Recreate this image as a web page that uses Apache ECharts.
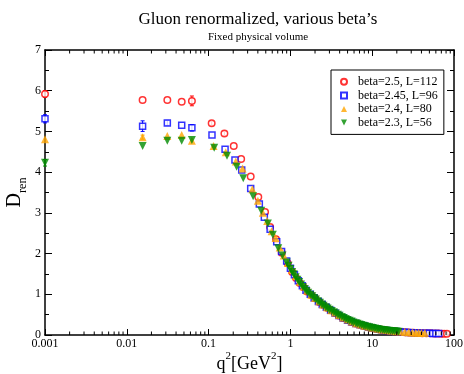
<!DOCTYPE html>
<html>
<head>
<meta charset="utf-8">
<script src="https://cdn.jsdelivr.net/npm/echarts@6/dist/echarts.min.js"></script>
<style>
  html, body { margin: 0; padding: 0; background: #fff; }
  #chart { width: 464px; height: 374px; }
</style>
</head>
<body>
<div id="chart"></div>
<script>
// tick labels
const xTickLabels = ['0.001', '0.01', '0.1', '1', '10', '100'];
const yTickLabels = ['0', '1', '2', '3', '4', '5', '6', '7'];

const seriesNames = ['beta=2.5, L=112', 'beta=2.45, L=96', 'beta=2.4, L=80', 'beta=2.3, L=56'];

// [q^2, D_ren]
const beta25 = [
  [0.001, 5.92], [0.0156, 5.77], [0.0313, 5.77], [0.0469, 5.73], [0.0625, 5.75],
  [0.109, 5.2], [0.156, 4.95], [0.203, 4.64], [0.25, 4.32], [0.327, 3.89], [0.405, 3.39],
  [0.49, 3.02], [0.565, 2.65], [0.667, 2.35], [0.783, 2.02], [0.927, 1.76], [1.05, 1.55],
  [1.17, 1.4], [1.3, 1.28], [1.45, 1.17], [1.6, 1.07], [1.8, 0.98], [2.0, 0.9], [2.25, 0.81],
  [2.5, 0.74], [2.8, 0.67], [3.1, 0.61], [3.5, 0.54], [3.9, 0.48], [4.4, 0.42], [5.0, 0.37],
  [5.6, 0.32], [6.3, 0.28], [7.1, 0.25], [8.0, 0.22], [9.0, 0.19], [10, 0.17], [11.5, 0.15],
  [13, 0.13], [15, 0.11], [17, 0.1], [19.5, 0.085], [22, 0.075], [25, 0.065], [28, 0.06],
  [32, 0.055], [36, 0.05], [41, 0.045], [46, 0.04], [52, 0.04], [58, 0.035], [64, 0.035],
  [70, 0.03], [76, 0.03], [82, 0.03]
];
const beta245 = [
  [0.001, 5.31], [0.0156, 5.13], [0.0313, 5.21], [0.0469, 5.15], [0.0625, 5.09],
  [0.11, 4.91], [0.159, 4.56], [0.21, 4.3], [0.254, 4.05], [0.327, 3.6], [0.417, 3.22],
  [0.48, 2.89], [0.565, 2.6], [0.68, 2.29], [0.78, 2.05], [0.9, 1.82], [1.0, 1.64],
  [1.12, 1.48], [1.25, 1.33], [1.4, 1.21], [1.55, 1.1], [1.75, 1.0], [1.95, 0.91], [2.2, 0.82],
  [2.45, 0.75], [2.75, 0.68], [3.1, 0.61], [3.5, 0.54], [3.9, 0.48], [4.4, 0.42], [5.0, 0.36],
  [5.6, 0.32], [6.3, 0.28], [7.1, 0.25], [8.0, 0.22], [9.0, 0.19], [10, 0.17], [11.5, 0.15],
  [13, 0.13], [15, 0.11], [17, 0.1], [19.5, 0.085], [22, 0.075], [25, 0.065], [28, 0.06],
  [32, 0.055], [36, 0.05], [40, 0.045], [45, 0.04], [50, 0.04], [55, 0.035], [60, 0.035],
  [65, 0.035]
];
const beta24 = [
  [0.001, 4.81], [0.0156, 4.86], [0.0313, 4.89], [0.0469, 4.91], [0.0625, 4.77],
  [0.115, 4.64], [0.162, 4.49], [0.215, 4.26], [0.26, 4.09], [0.343, 3.58], [0.4, 3.3],
  [0.46, 3.0], [0.52, 2.8], [0.59, 2.55], [0.66, 2.38], [0.74, 2.15], [0.83, 1.95],
  [0.93, 1.77], [1.04, 1.6], [1.16, 1.45], [1.3, 1.31], [1.45, 1.19], [1.6, 1.09], [1.8, 0.99],
  [2.0, 0.91], [2.25, 0.83], [2.5, 0.75], [2.8, 0.68], [3.15, 0.61], [3.5, 0.55], [3.9, 0.49],
  [4.4, 0.43], [5.0, 0.38], [5.6, 0.33], [6.3, 0.29], [7.1, 0.26], [8.0, 0.23], [9.0, 0.2],
  [10, 0.18], [11.5, 0.155], [13, 0.135], [15, 0.12], [17, 0.105], [19.5, 0.095], [22, 0.085],
  [25, 0.075], [28, 0.068], [31, 0.062], [34, 0.058], [37, 0.055], [40, 0.052], [44, 0.05]
];
const beta23 = [
  [0.001, 4.23], [0.0156, 4.64], [0.0313, 4.77], [0.0469, 4.77], [0.0625, 4.79],
  [0.117, 4.6], [0.168, 4.4], [0.22, 4.13], [0.265, 3.85], [0.35, 3.41], [0.44, 3.05],
  [0.53, 2.74], [0.61, 2.46], [0.71, 2.13], [0.8, 1.95], [0.9, 1.78], [0.95, 1.7], [1.0, 1.62],
  [1.05, 1.55], [1.1, 1.49], [1.16, 1.42], [1.22, 1.36], [1.28, 1.3], [1.35, 1.24],
  [1.42, 1.18], [1.5, 1.13], [1.57, 1.08], [1.65, 1.04], [1.75, 0.99], [1.85, 0.95],
  [1.95, 0.91], [2.05, 0.87], [2.17, 0.83], [2.3, 0.79], [2.42, 0.75], [2.55, 0.72],
  [2.7, 0.68], [2.85, 0.65], [3.0, 0.62], [3.2, 0.59], [3.4, 0.56], [3.6, 0.53], [3.8, 0.5],
  [4.0, 0.47], [4.25, 0.445], [4.5, 0.42], [4.75, 0.395], [5.0, 0.37], [5.3, 0.35],
  [5.6, 0.33], [5.9, 0.31], [6.3, 0.29], [6.6, 0.275], [7.0, 0.26], [7.4, 0.245],
  [7.8, 0.23], [8.2, 0.215], [8.7, 0.2], [9.2, 0.19], [9.7, 0.18], [10.2, 0.17],
  [10.8, 0.16], [11.4, 0.15], [12, 0.14], [12.7, 0.13], [13.5, 0.12], [14.2, 0.115],
  [15, 0.11], [15.9, 0.105], [16.8, 0.1], [17.8, 0.095], [18.8, 0.09], [19.9, 0.085], [21, 0.08]
];

// [q^2, D_ren, error]
const beta25Err = [[0.001, 5.92, 0.08], [0.0625, 5.75, 0.12], [0.109, 5.2, 0.05], [0.156, 4.95, 0.05]];
const beta245Err = [[0.001, 5.31, 0.1], [0.0156, 5.13, 0.13], [0.0313, 5.21, 0.06], [0.0625, 5.09, 0.08]];
const beta24Err = [[0.0156, 4.86, 0.05]];
const beta23Err = [[0.001, 4.23, 0.08]];

const FONT = 'Liberation Serif, DejaVu Serif, serif';
const RED = '#ff0000';
const BLUE = '#0000ff';
const ORANGE = '#ffa500';
const GREEN = '#008b00';
const DOWN_TRI = 'path://M0,0L10,0L5,10Z';

// minor ticks of the log axis: 2..9 x 10^k
const minorX = [];
for (let k = -3; k < 2; k++) {
  for (let m = 2; m <= 9; m++) minorX.push([m * Math.pow(10, k)]);
}

const errorSeries = (data, color) => ({
  type: 'custom',
  data: data,
  silent: true,
  renderItem: (params, api) => {
    const x = api.value(0);
    const y = api.value(1);
    const e = api.value(2);
    const lo = api.coord([x, y - e]);
    const hi = api.coord([x, y + e]);
    const st = { stroke: color, lineWidth: 1 };
    return {
      type: 'group',
      children: [
        { type: 'line', shape: { x1: lo[0], y1: lo[1], x2: hi[0], y2: hi[1] }, style: st },
        { type: 'line', shape: { x1: lo[0] - 2, y1: lo[1], x2: lo[0] + 2, y2: lo[1] }, style: st },
        { type: 'line', shape: { x1: hi[0] - 2, y1: hi[1], x2: hi[0] + 2, y2: hi[1] }, style: st },
      ],
    };
  },
});

const axisCommon = {
  axisLine: { show: true, onZero: false, lineStyle: { color: '#000', width: 1.5 } },
  splitLine: { show: false },
};

const chart = echarts.init(document.getElementById('chart'));

const option = {
  animation: false,
  backgroundColor: '#fff',
  title: {
    text: 'Gluon renormalized, various beta\u2019s',
    subtext: 'Fixed physical volume',
    left: 253,
    top: 6,
    textAlign: 'center',
    itemGap: 4,
    textStyle: { fontFamily: FONT, fontSize: 17, fontWeight: 'normal', color: '#000' },
    subtextStyle: { fontFamily: FONT, fontSize: 11, color: '#000' },
  },
  legend: {
    orient: 'vertical',
    left: 331,
    top: 70,
    padding: [5, 6, 5, 9],
    itemGap: 0,
    itemWidth: 6,
    itemHeight: 6,
    borderColor: '#000',
    borderWidth: 1,
    selectedMode: false,
    textStyle: { fontFamily: FONT, fontSize: 12, color: '#000', lineHeight: 13.6, padding: [0, 0, 0, 6] },
    data: seriesNames,
  },
  grid: { left: 45, right: 10, top: 50, bottom: 39, outerBoundsMode: 'none', containLabel: false },
  xAxis: [
    {
      ...axisCommon,
      type: 'log',
      logBase: 10,
      min: 0.001,
      max: 100,
      position: 'bottom',
      axisTick: { show: true, inside: true, length: 6, lineStyle: { color: '#000', width: 1 } },
      axisLabel: {
        fontFamily: FONT, fontSize: 12, color: '#000', margin: 3,
        formatter: (v, i) => xTickLabels[i],
      },
      name: '{a|q}{s|2}{a|[GeV}{s|2}{a|]}',
      nameLocation: 'middle',
      nameGap: 16,
      nameMoveOverlap: false,
      nameTextStyle: {
        rich: {
          a: { fontFamily: FONT, fontSize: 18, color: '#000', lineHeight: 22, verticalAlign: 'bottom' },
          s: { fontFamily: FONT, fontSize: 11, color: '#000', lineHeight: 22, verticalAlign: 'top' },
        },
      },
    },
    {
      ...axisCommon,
      type: 'log',
      logBase: 10,
      min: 0.001,
      max: 100,
      position: 'top',
      axisTick: { show: true, inside: true, length: 6, lineStyle: { color: '#000', width: 1 } },
      axisLabel: { show: false },
    },
  ],
  yAxis: [
    {
      ...axisCommon,
      type: 'value',
      min: 0,
      max: 7,
      interval: 1,
      position: 'left',
      axisTick: { show: true, inside: true, length: 7, lineStyle: { color: '#000' } },
      minorTick: { show: true, splitNumber: 2, length: 4, lineStyle: { color: '#000' } },
      axisLabel: {
        fontFamily: FONT, fontSize: 12, color: '#000', margin: 4,
        formatter: (v, i) => yTickLabels[i],
      },
      name: '{a|D}{s|ren}',
      nameLocation: 'middle',
      nameGap: 16,
      nameMoveOverlap: false,
      nameRotate: 90,
      nameTextStyle: {
        rich: {
          a: { fontFamily: FONT, fontSize: 20, color: '#000', lineHeight: 24, verticalAlign: 'top' },
          s: { fontFamily: FONT, fontSize: 12, color: '#000', lineHeight: 24, verticalAlign: 'bottom' },
        },
      },
    },
    {
      ...axisCommon,
      type: 'value',
      min: 0,
      max: 7,
      interval: 1,
      position: 'right',
      axisTick: { show: true, inside: true, length: 7, lineStyle: { color: '#000' } },
      minorTick: { show: true, splitNumber: 2, length: 4, lineStyle: { color: '#000' } },
      axisLabel: { show: false },
    },
  ],
  series: [
    {
      name: seriesNames[0],
      type: 'scatter',
      data: beta25,
      symbol: 'circle',
      symbolSize: 6.5,
      itemStyle: { color: '#fff', borderColor: RED, borderWidth: 1.5 },
    },
    errorSeries(beta25Err, RED),
    {
      name: seriesNames[1],
      type: 'scatter',
      data: beta245,
      symbol: 'rect',
      symbolSize: 6,
      itemStyle: { color: '#fff', borderColor: BLUE, borderWidth: 1.5 },
    },
    errorSeries(beta245Err, BLUE),
    {
      name: seriesNames[2],
      type: 'scatter',
      data: beta24,
      symbol: 'triangle',
      symbolSize: 8,
      itemStyle: { color: ORANGE },
    },
    errorSeries(beta24Err, ORANGE),
    {
      name: seriesNames[3],
      type: 'scatter',
      data: beta23,
      symbol: DOWN_TRI,
      symbolSize: 8,
      itemStyle: { color: GREEN },
    },
    errorSeries(beta23Err, GREEN),
    {
      // minor ticks for log x axis (bottom and top)
      type: 'custom',
      data: minorX,
      silent: true,
      z: 10,
      renderItem: (params, api) => {
        const p = api.coord([api.value(0), 0]);
        const cs = params.coordSys;
        const st = { stroke: '#000', lineWidth: 1 };
        return {
          type: 'group',
          children: [
            { type: 'line', shape: { x1: p[0], y1: cs.y + cs.height, x2: p[0], y2: cs.y + cs.height - 3.5 }, style: st },
            { type: 'line', shape: { x1: p[0], y1: cs.y, x2: p[0], y2: cs.y + 3.5 }, style: st },
          ],
        };
      },
    },
  ],
};

chart.setOption(option);
</script>
</body>
</html>
